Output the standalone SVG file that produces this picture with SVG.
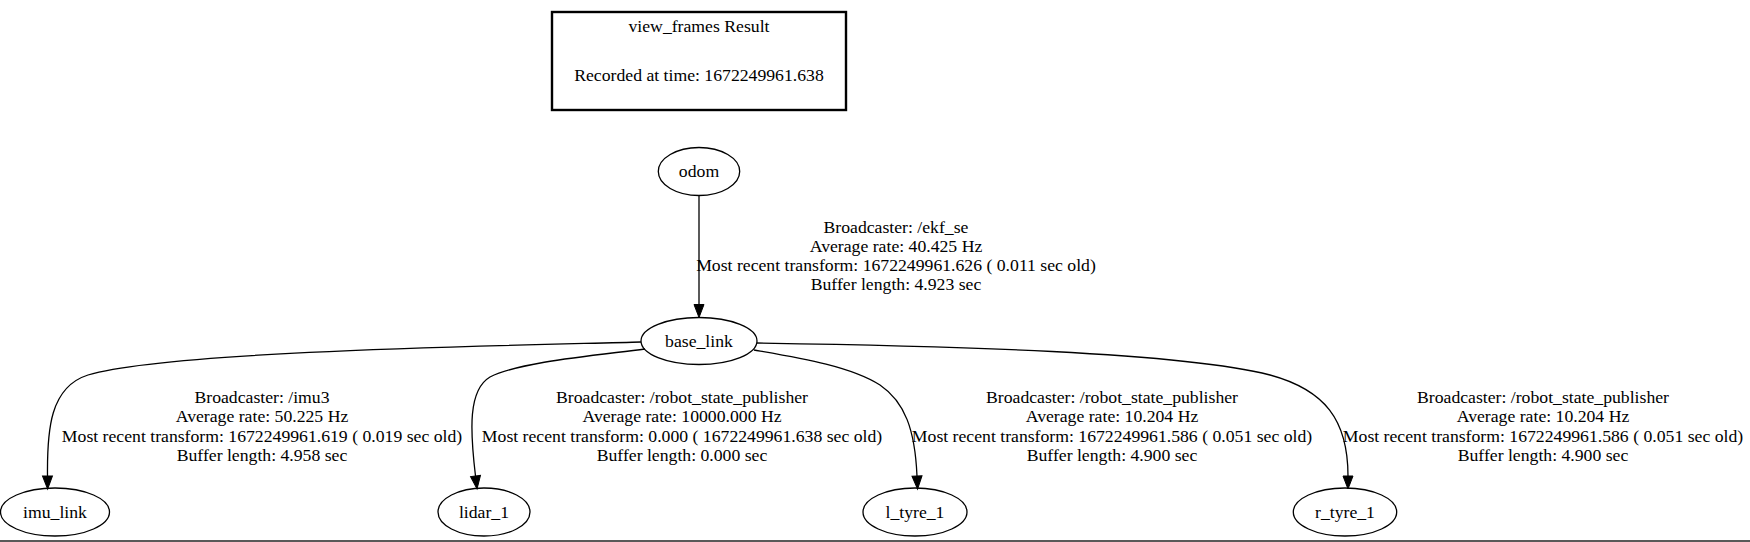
<svg xmlns="http://www.w3.org/2000/svg" width="1750" height="542" viewBox="0 0 1750 542">
<style>
text { font-family: "Liberation Serif", "Times New Roman", serif; font-size: 17.7px; fill: #000; }
.n text, .lbl { text-anchor: middle; }
.n ellipse { fill: none; stroke: #000; stroke-width: 1.3; }
.e path { fill: none; stroke: #000; stroke-width: 1.3; }
</style>
<defs>
<marker id="ah" markerUnits="userSpaceOnUse" markerWidth="14" markerHeight="12" refX="0" refY="0" orient="auto" overflow="visible">
<path d="M0,-5 L13,0 L0,5 z" fill="#000" stroke="#000" stroke-width="1"/>
</marker>
</defs>
<rect width="1750" height="542" fill="#fff"/>
<g id="title" class="n">
<rect x="552" y="12" width="294" height="98" fill="none" stroke="#000" stroke-width="2.4"/>
<text x="699" y="32">view_frames Result</text>
<text x="699" y="80.5">Recorded at time: 1672249961.638</text>
</g>
<g id="edges" class="e">
<path d="M699,195.5 L699,304.5" marker-end="url(#ah)"/>
<path d="M641,342 C540,345 170,350 88,375 C50,387 47,430 47.5,476" marker-end="url(#ah)"/>
<path d="M645,349 C590,356 520,362 490,377 C468,390 470,430 475.5,476" marker-end="url(#ah)"/>
<path d="M754,350 C800,358 850,366 880,385 C905,402 915,430 917,476" marker-end="url(#ah)"/>
<path d="M757,343 C950,346 1180,352 1270,375 C1325,390 1348,420 1348,476" marker-end="url(#ah)"/>
</g>
<g id="edge-labels">
<g id="label-odom-base_link">
<text class="lbl" x="896" y="232.5">Broadcaster: /ekf_se</text>
<text class="lbl" x="896" y="251.7">Average rate: 40.425 Hz</text>
<text class="lbl" x="896" y="270.9">Most recent transform: 1672249961.626 ( 0.011 sec old)</text>
<text class="lbl" x="896" y="290.1">Buffer length: 4.923 sec</text>
</g>
<g id="label-base_link-imu_link">
<text class="lbl" x="262" y="403.3">Broadcaster: /imu3</text>
<text class="lbl" x="262" y="422.4">Average rate: 50.225 Hz</text>
<text class="lbl" x="262" y="441.5">Most recent transform: 1672249961.619 ( 0.019 sec old)</text>
<text class="lbl" x="262" y="460.6">Buffer length: 4.958 sec</text>
</g>
<g id="label-base_link-lidar_1">
<text class="lbl" x="682" y="403.3">Broadcaster: /robot_state_publisher</text>
<text class="lbl" x="682" y="422.4">Average rate: 10000.000 Hz</text>
<text class="lbl" x="682" y="441.5">Most recent transform: 0.000 ( 1672249961.638 sec old)</text>
<text class="lbl" x="682" y="460.6">Buffer length: 0.000 sec</text>
</g>
<g id="label-base_link-l_tyre_1">
<text class="lbl" x="1112" y="403.3">Broadcaster: /robot_state_publisher</text>
<text class="lbl" x="1112" y="422.4">Average rate: 10.204 Hz</text>
<text class="lbl" x="1112" y="441.5">Most recent transform: 1672249961.586 ( 0.051 sec old)</text>
<text class="lbl" x="1112" y="460.6">Buffer length: 4.900 sec</text>
</g>
<g id="label-base_link-r_tyre_1">
<text class="lbl" x="1543" y="403.3">Broadcaster: /robot_state_publisher</text>
<text class="lbl" x="1543" y="422.4">Average rate: 10.204 Hz</text>
<text class="lbl" x="1543" y="441.5">Most recent transform: 1672249961.586 ( 0.051 sec old)</text>
<text class="lbl" x="1543" y="460.6">Buffer length: 4.900 sec</text>
</g>
</g>
<g id="odom" class="n">
<ellipse cx="699" cy="171.5" rx="40.7" ry="24"/>
<text x="699" y="177">odom</text>
</g>
<g id="base_link" class="n">
<ellipse cx="699" cy="341" rx="58" ry="23.5"/>
<text x="699" y="347">base_link</text>
</g>
<g id="imu_link" class="n">
<ellipse cx="55" cy="512" rx="54.5" ry="24"/>
<text x="55" y="518">imu_link</text>
</g>
<g id="lidar_1" class="n">
<ellipse cx="484" cy="512" rx="46" ry="24"/>
<text x="484" y="518">lidar_1</text>
</g>
<g id="l_tyre_1" class="n">
<ellipse cx="915" cy="512" rx="52" ry="24"/>
<text x="915" y="518">l_tyre_1</text>
</g>
<g id="r_tyre_1" class="n">
<ellipse cx="1345" cy="512" rx="51.7" ry="24"/>
<text x="1345" y="518">r_tyre_1</text>
</g>
<line x1="0" y1="541" x2="1750" y2="541" stroke="#222" stroke-width="1.5"/>
</svg>
